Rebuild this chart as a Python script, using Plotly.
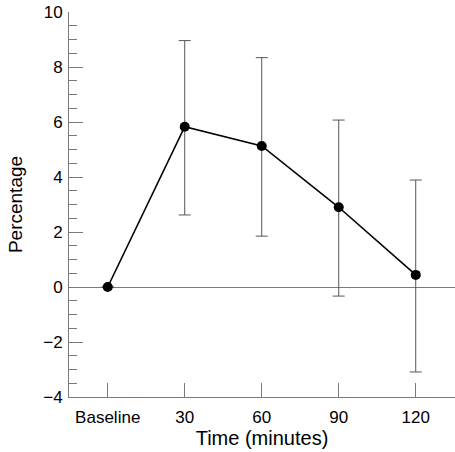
import plotly.graph_objects as go

categories = ["Baseline", "30", "60", "90", "120"]
means = [0.0, 5.83, 5.13, 2.9, 0.44]
err_plus = [0.0, 3.13, 3.21, 3.17, 3.45]
err_minus = [0.0, 3.21, 3.28, 3.23, 3.53]
y_ticks = [-4, -2, 0, 2, 4, 6, 8, 10]

FONT = "Liberation Sans, Arial, Helvetica, sans-serif"
AX = "#7a7a7a"

x_idx = list(range(len(categories)))

fig = go.Figure()
fig.add_trace(go.Scatter(
    x=x_idx, y=means,
    mode="lines+markers",
    line=dict(color="black", width=1.6),
    marker=dict(color="black", size=10),
    error_y=dict(type="data", symmetric=False,
                 array=[e if e else None for e in err_plus],
                 arrayminus=[e if e else None for e in err_minus],
                 color="#555555", thickness=1, width=6),
    showlegend=False,
    cliponaxis=False,
))

fig.update_layout(
    width=455, height=452,
    margin=dict(l=69, r=0, t=12, b=55, autoexpand=False),
    plot_bgcolor="white", paper_bgcolor="white",
    font=dict(family=FONT, size=17, color="black"),
    xaxis=dict(
        range=[-0.503, 4.51],
        tickvals=x_idx, ticktext=categories,
        ticks="inside", ticklen=14, tickcolor=AX, tickwidth=1,
        ticklabelstandoff=5,
        showline=True, linecolor=AX, linewidth=1,
        showgrid=False, zeroline=False, automargin=False,
        title=dict(text="Time (minutes)", font=dict(size=20), standoff=4),
    ),
    yaxis=dict(
        range=[-4, 10],
        tickvals=y_ticks,
        ticktext=[str(v).replace("-", "\u2212") for v in y_ticks],
        ticks="inside", ticklen=14, tickcolor=AX, tickwidth=1,
        ticklabelstandoff=2,
        minor=dict(ticks="inside", ticklen=8, dtick=0.5, tickcolor=AX, tickwidth=1, showgrid=False),
        showline=True, linecolor=AX, linewidth=1,
        showgrid=False, automargin=False,
        zeroline=True, zerolinecolor=AX, zerolinewidth=1,
        title=dict(text="Percentage", font=dict(size=19), standoff=15),
    ),
)

fig.write_html("out.html", config={"displayModeBar": False},
               post_script="document.body.style.margin='0';document.body.style.overflow='hidden';")
